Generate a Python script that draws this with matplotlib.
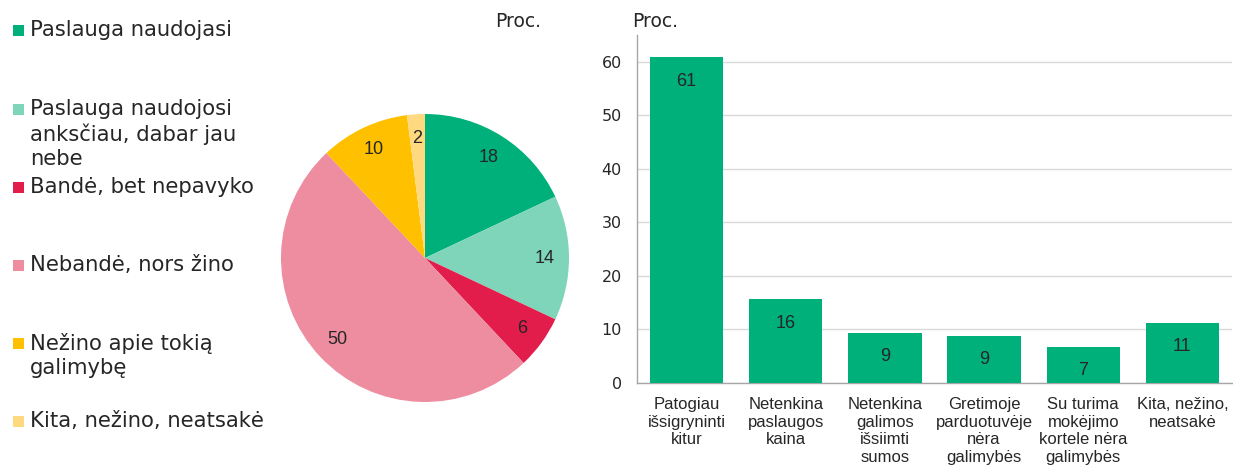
import matplotlib
matplotlib.use('Agg')
import matplotlib.pyplot as plt
from matplotlib.patches import Rectangle

# pie data
PIE_LABELS = [
    'Paslauga naudojasi',
    'Paslauga naudojosi\nanksčiau, dabar jau\nnebe',
    'Bandė, bet nepavyko',
    'Nebandė, nors žino',
    'Nežino apie tokią\ngalimybę',
    'Kita, nežino, neatsakė',
]
PIE_VALUES = [18, 14, 6, 50, 10, 2]
PIE_COLORS = ['#00B07B', '#7FD5BA', '#E31D4B', '#EE8CA0', '#FFC000', '#FFD97F']

# bar data
BAR_CATS = [
    'Patogiau\nišsigryninti\nkitur',
    'Netenkina\npaslaugos\nkaina',
    'Netenkina\ngalimos\nišsiimti\nsumos',
    'Gretimoje\nparduotuvėje\nnėra\ngalimybės',
    'Su turima\nmokėjimo\nkortele nėra\ngalimybės',
    'Kita, nežino,\nneatsakė',
]
BAR_VALUES = [60.8, 15.6, 9.3, 8.8, 6.7, 11.2]
BAR_COLOR = '#00B07B'

W, H = 1233, 473
fig = plt.figure(figsize=(W / 100, H / 100), dpi=100, facecolor='white')

TXT = '#262626'
SANS = ['Liberation Sans', 'DejaVu Sans']

# ---- legend (manual, pixel coords) ----
leg = fig.add_axes([0, 0, 1, 1])
leg.set_xlim(0, W)
leg.set_ylim(H, 0)
leg.set_axis_off()
for i, (lab, col) in enumerate(zip(PIE_LABELS, PIE_COLORS)):
    yc = 31 + i * 78
    leg.add_patch(Rectangle((13, yc - 5.5), 11, 11, color=col, lw=0))
    leg.text(30, yc - 10.5, lab, fontsize=15.2, color=TXT, va='top', ha='left',
             linespacing=1.27, family='DejaVu Sans')

# ---- pie ----
cx, cy, r = 425, 258, 144
pax = fig.add_axes([(cx - r) / W, 1 - (cy + r) / H, 2 * r / W, 2 * r / H])
wedges, _, autotexts = pax.pie(
    PIE_VALUES, colors=PIE_COLORS, startangle=90, counterclock=False,
    autopct=lambda p: f'{p:.0f}', pctdistance=0.83, radius=1,
    wedgeprops=dict(linewidth=0),
    textprops=dict(fontsize=13, color=TXT, family=SANS),
)
pax.set_xlim(-1, 1)
pax.set_ylim(-1, 1)
pax.set_aspect('equal')
fig.text(518 / W, 1 - 21 / H, 'Proc.', fontsize=13.5, color=TXT,
         ha='center', va='center', family='DejaVu Sans')

# ---- bars ----
bax = fig.add_axes([637 / W, 1 - 383 / H, (1232 - 637) / W, (383 - 35) / H])
x = range(len(BAR_VALUES))
bars = bax.bar(x, BAR_VALUES, width=0.74, color=BAR_COLOR, zorder=3)
for rect, v in zip(bars, BAR_VALUES):
    bax.annotate(f'{v:.0f}', (rect.get_x() + rect.get_width() / 2, v),
                 xytext=(0, -17), textcoords='offset points',
                 ha='center', va='center', fontsize=13, color=TXT,
                 family=SANS)
bax.set_xlim(-0.5, len(BAR_VALUES) - 0.5)
bax.set_ylim(0, 65)
bax.set_yticks(range(0, 61, 10))
bax.set_xticks(list(x))
bax.set_xticklabels(BAR_CATS, fontsize=12, color=TXT, family=SANS,
                    linespacing=1.22)
bax.tick_params(axis='y', length=0, pad=11, labelsize=11.5, labelcolor=TXT)
bax.tick_params(axis='x', length=0, pad=10)
for lbl in bax.get_yticklabels():
    lbl.set_family('DejaVu Sans')
bax.grid(axis='y', color='#D9D9D9', lw=1, zorder=0)
for s in ['top', 'right']:
    bax.spines[s].set_visible(False)
for s in ['left', 'bottom']:
    bax.spines[s].set_color('#A6A6A6')
    bax.spines[s].set_linewidth(1)
fig.text(655 / W, 1 - 21 / H, 'Proc.', fontsize=13.5, color=TXT,
         ha='center', va='center', family='DejaVu Sans')

fig.savefig('out.png', dpi=100, facecolor='white')
